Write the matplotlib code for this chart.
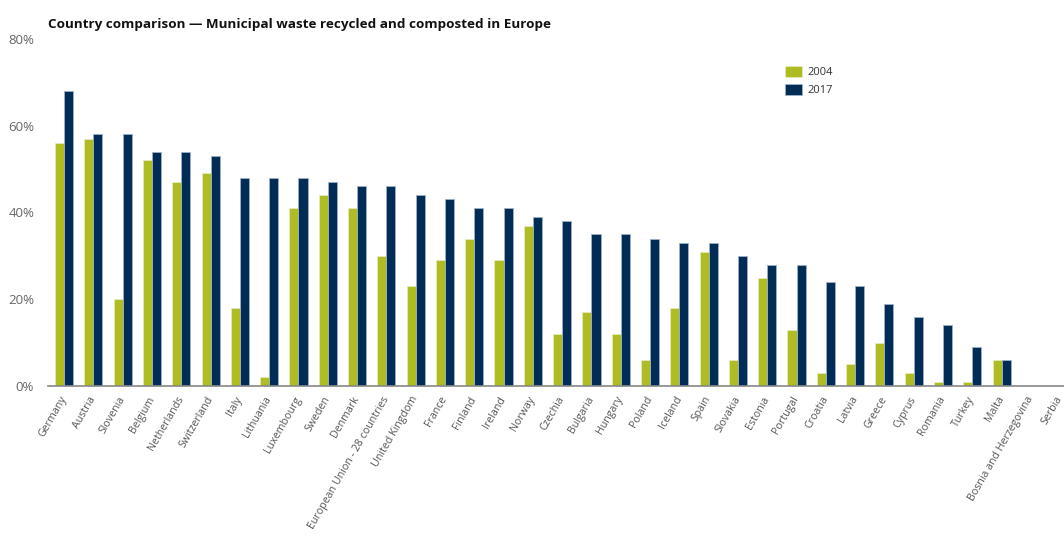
import numpy as np
import matplotlib
matplotlib.use("Agg")
import matplotlib.pyplot as plt
from matplotlib.ticker import FuncFormatter

plt.rcParams["font.family"] = ["Open Sans", "DejaVu Sans"]

countries = [
  "Germany", "Austria", "Slovenia", "Belgium", "Netherlands", "Switzerland",
  "Italy", "Lithuania", "Luxembourg", "Sweden", "Denmark",
  "European Union - 28 countries", "United Kingdom", "France", "Finland",
  "Ireland", "Norway", "Czechia", "Bulgaria", "Hungary", "Poland", "Iceland",
  "Spain", "Slovakia", "Estonia", "Portugal", "Croatia", "Latvia", "Greece",
  "Cyprus", "Romania", "Turkey", "Malta", "Bosnia and Herzegovina", "Serbia",
]
# recycling + composting rate, % of municipal waste (nan = no data)
rate_2004 = [56, 57, 20, 52, 47, 49, 18, 2, 41, 44, 41, 30, 23, 29, 34, 29,
             37, 12, 17, 12, 6, 18, 31, 6, 25, 13, 3, 5, 10, 3, 1, 1, 6,
             np.nan, np.nan]
rate_2017 = [68, 58, 58, 54, 54, 53, 48, 48, 48, 47, 46, 46, 44, 43, 41, 41,
             39, 38, 35, 35, 34, 33, 33, 30, 28, 28, 24, 23, 19, 16, 14, 9, 6,
             np.nan, np.nan]
years = ["2004", "2017"]

GREEN = "#afbc22"
NAVY = "#002c55"

fig = plt.figure(figsize=(10.64, 5.36), dpi=100)
ax = fig.add_axes([0.0451, 0.2799, 0.9549, 0.6473])

x = np.arange(len(countries))
w = 0.31
ax.bar(x - w / 2, rate_2004, w, color=GREEN, edgecolor="#e4ebc0",
       linewidth=0.6, label=years[0])
ax.bar(x + w / 2, rate_2017, w, color=NAVY, edgecolor="#9fb2c8",
       linewidth=0.6, label=years[1])

ax.set_xlim(-0.55, 34.13)
ax.set_ylim(0, 80)
ax.set_yticks([0, 20, 40, 60, 80])
ax.yaxis.set_major_formatter(FuncFormatter(lambda v, p: f"{v:.0f}%"))
ax.tick_params(axis="y", length=0, labelsize=9.5, labelcolor="#666666", pad=10)

ax.set_xticks(x)
ax.set_xticklabels(countries, rotation=60, ha="right", va="center",
                   rotation_mode="anchor", fontsize=7.7, color="#555555")
ax.tick_params(axis="x", length=0, pad=8)

for side in ["top", "right", "left"]:
  ax.spines[side].set_visible(False)
ax.spines["bottom"].set_color("#888888")
ax.spines["bottom"].set_linewidth(1.2)

fig.text(0.0451, 0.955, "Country comparison \u2014 Municipal waste recycled and composted in Europe",
         fontsize=9.7, fontweight="bold", color="#111111", va="center")

ax.legend(loc="upper left", bbox_to_anchor=(0.728, 0.895),
          bbox_transform=fig.transFigure, frameon=False, fontsize=8,
          handlelength=1.6, handleheight=1.1, labelspacing=0.5,
          handletextpad=0.5, labelcolor="#333333")

fig.savefig("out.png", dpi=100)
